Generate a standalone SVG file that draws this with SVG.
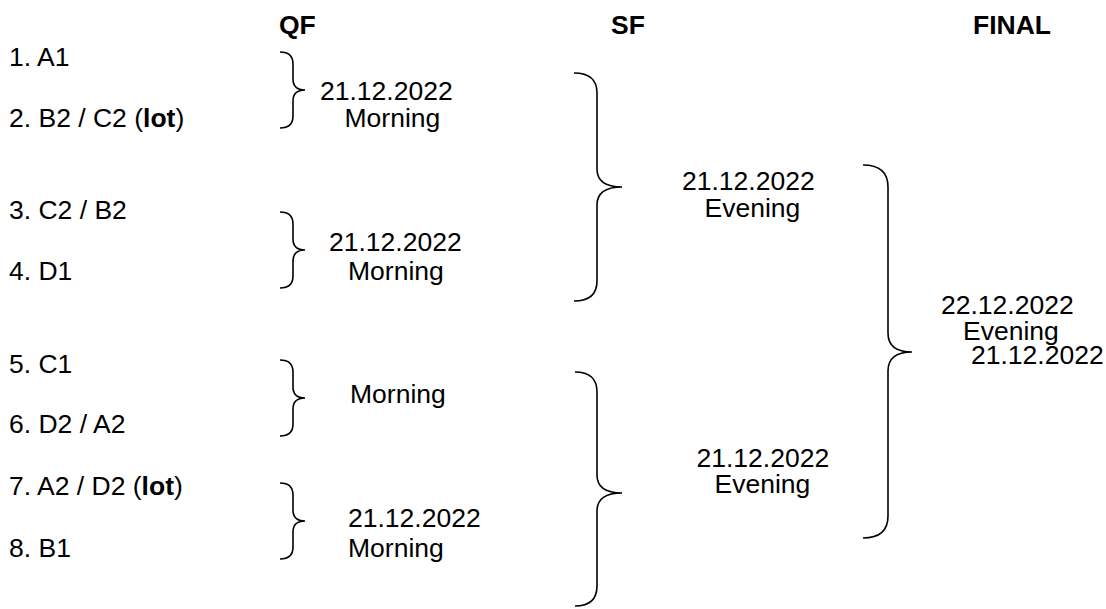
<svg xmlns="http://www.w3.org/2000/svg" width="1106" height="609" viewBox="0 0 1106 609">
<style>
text{font-family:"Liberation Sans",Arial,sans-serif;font-size:26.5px;fill:#000}
.h{font-weight:bold}
.b{font-weight:bold}
.br{fill:none;stroke:#000;stroke-width:1.6}
</style>
<rect width="1106" height="609" fill="#fff"/>
<g id="headers">
<text class="h" x="279" y="34">QF</text>
<text class="h" x="611" y="34">SF</text>
<text class="h" x="973" y="34">FINAL</text>
</g>
<g id="teams">
<text x="9" y="66">1. A1</text>
<text x="9" y="127">2. B2 / C2 (<tspan class="b">lot</tspan>)</text>
<text x="9" y="219">3. C2 / B2</text>
<text x="9" y="280">4. D1</text>
<text x="9" y="373">5. C1</text>
<text x="9" y="433">6. D2 / A2</text>
<text x="9" y="495">7. A2 / D2 (<tspan class="b">lot</tspan>)</text>
<text x="9" y="557">8. B1</text>
</g>
<g id="qf1"><text x="320" y="100">21.12.2022</text><text x="344.5" y="126.7">Morning</text></g>
<g id="qf2"><text x="329" y="250.5">21.12.2022</text><text x="348" y="280">Morning</text></g>
<g id="qf3"><text x="350" y="403">Morning</text></g>
<g id="qf4"><text x="348" y="527">21.12.2022</text><text x="348" y="557">Morning</text></g>
<g id="sf1"><text x="682" y="190">21.12.2022</text><text x="704.5" y="216.7">Evening</text></g>
<g id="sf2"><text x="696.5" y="466.7">21.12.2022</text><text x="714.5" y="492.7">Evening</text></g>
<g id="final"><text x="941" y="313.5">22.12.2022</text><text x="963" y="339.5">Evening</text><text x="971" y="364">21.12.2022</text></g>
<g id="connectors" class="br">
<path d="M280,52 Q293,52 293,64 L293,79 Q293,90 305,90 Q293,90 293,101 L293,116 Q293,128 280,128"/>
<path d="M280,212 Q293,212 293,224 L293,239 Q293,250 305,250 Q293,250 293,261 L293,276 Q293,288 280,288"/>
<path d="M280,360 Q293,360 293,372 L293,387 Q293,398 305,398 Q293,398 293,409 L293,424 Q293,436 280,436"/>
<path d="M280,483 Q293,483 293,495 L293,510 Q293,521 305,521 Q293,521 293,532 L293,547 Q293,559 280,559"/>
<path d="M574,73 Q597,73 597,93 L597,169 Q597,187 622,187 Q597,187 597,205 L597,281 Q597,301 574,301"/>
<path d="M575,372 Q597,372 597,392 L597,475 Q597,493 622,493 Q597,493 597,511 L597,586 Q597,606 575,606"/>
<path d="M863,165 Q888,165 888,187 L888,333 Q888,352 912,352 Q888,352 888,371 L888,516 Q888,538 863,538"/>
</g>
</svg>
